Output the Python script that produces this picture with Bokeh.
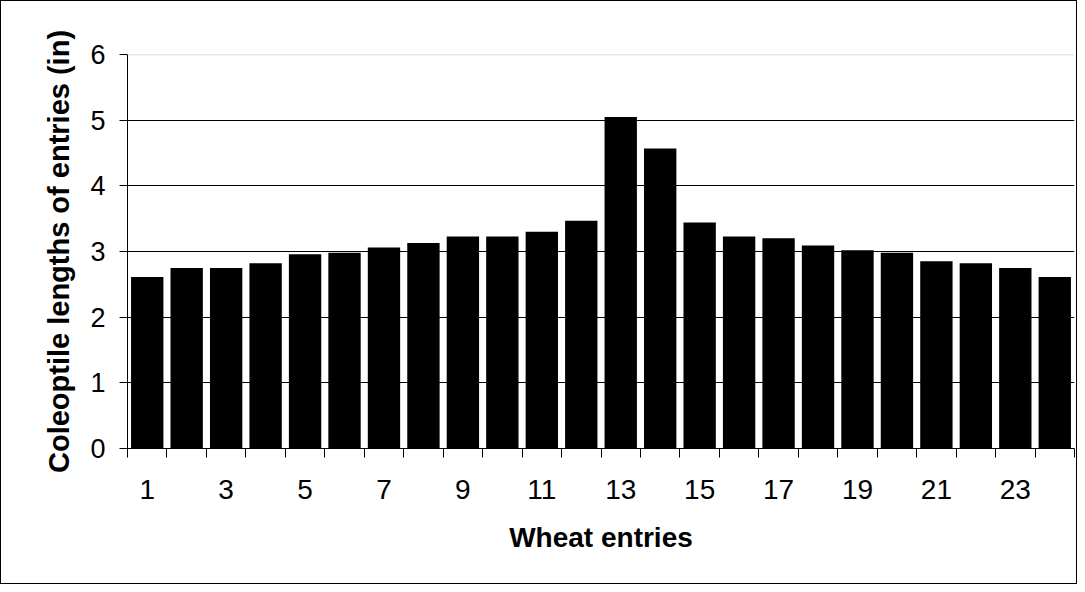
from bokeh.plotting import figure
from bokeh.models import FixedTicker, Range1d, ColumnDataSource, Span
from bokeh.embed import file_html
from bokeh.resources import INLINE

entries = list(range(1, 25))
lengths = [2.61, 2.75, 2.75, 2.82, 2.96, 2.98, 3.06, 3.13, 3.23, 3.23, 3.30, 3.47,
           5.05, 4.57, 3.44, 3.23, 3.20, 3.09, 3.02, 2.98, 2.85, 2.82, 2.75, 2.61]
x_tick_labels = [1, 3, 5, 7, 9, 11, 13, 15, 17, 19, 21, 23]
y_ticks = [0, 1, 2, 3, 4, 5, 6]
x_title = "Wheat entries"
y_title = "Coleoptile lengths of entries (in)"

src = ColumnDataSource(dict(x=entries, top=lengths))

W, H = 1077, 584
p = figure(width=W, height=H, output_backend="svg", toolbar_location=None,
           x_range=Range1d(0.5, 24.5), y_range=Range1d(y_ticks[0], y_ticks[-1]),
           min_border_left=126, min_border_right=W - 126 - 947,
           min_border_top=53, min_border_bottom=H - 53 - 394)
p.styles = {"border": "1px solid black"}
p.outline_line_color = None
p.background_fill_color = "white"
p.border_fill_color = "white"

p.vbar(x="x", top="top", width=0.82, bottom=0, source=src, fill_color="black", line_color=None)

font = "Liberation Sans"
xa = p.xaxis[0]
xa.ticker = FixedTicker(ticks=x_tick_labels, minor_ticks=[e - 0.5 for e in entries] + [entries[-1] + 0.5])
xa.major_tick_line_color = None
xa.minor_tick_in = 0
xa.minor_tick_out = 9
xa.minor_tick_line_color = "black"
xa.axis_line_color = "black"
xa.major_label_text_font = font
xa.major_label_text_font_size = "28px"
xa.major_label_text_color = "black"
xa.major_label_standoff = 22
xa.axis_label = x_title
xa.axis_label_text_font = font
xa.axis_label_text_font_size = "28px"
xa.axis_label_text_font_style = "bold"
xa.axis_label_text_color = "black"
xa.axis_label_standoff = 20

ya = p.yaxis[0]
ya.ticker = FixedTicker(ticks=y_ticks)
ya.minor_tick_line_color = None
ya.major_tick_in = 0
ya.major_tick_out = 8
ya.major_tick_line_color = "black"
ya.axis_line_color = "black"
ya.major_label_text_font = font
ya.major_label_text_font_size = "27px"
ya.major_label_text_color = "black"
ya.major_label_standoff = 14
ya.axis_label = y_title
ya.axis_label_text_font = font
ya.axis_label_text_font_size = "29px"
ya.axis_label_text_font_style = "bold"
ya.axis_label_text_color = "black"
ya.axis_label_standoff = 12

p.xgrid.visible = False
p.ygrid.ticker = FixedTicker(ticks=y_ticks[:-1])
p.ygrid.grid_line_color = "black"
p.ygrid.grid_line_width = 1
p.add_layout(Span(location=y_ticks[-1], dimension="width", line_color="#d0d0d0", line_width=1.5))

open("out.html", "w").write(file_html(p, INLINE))
